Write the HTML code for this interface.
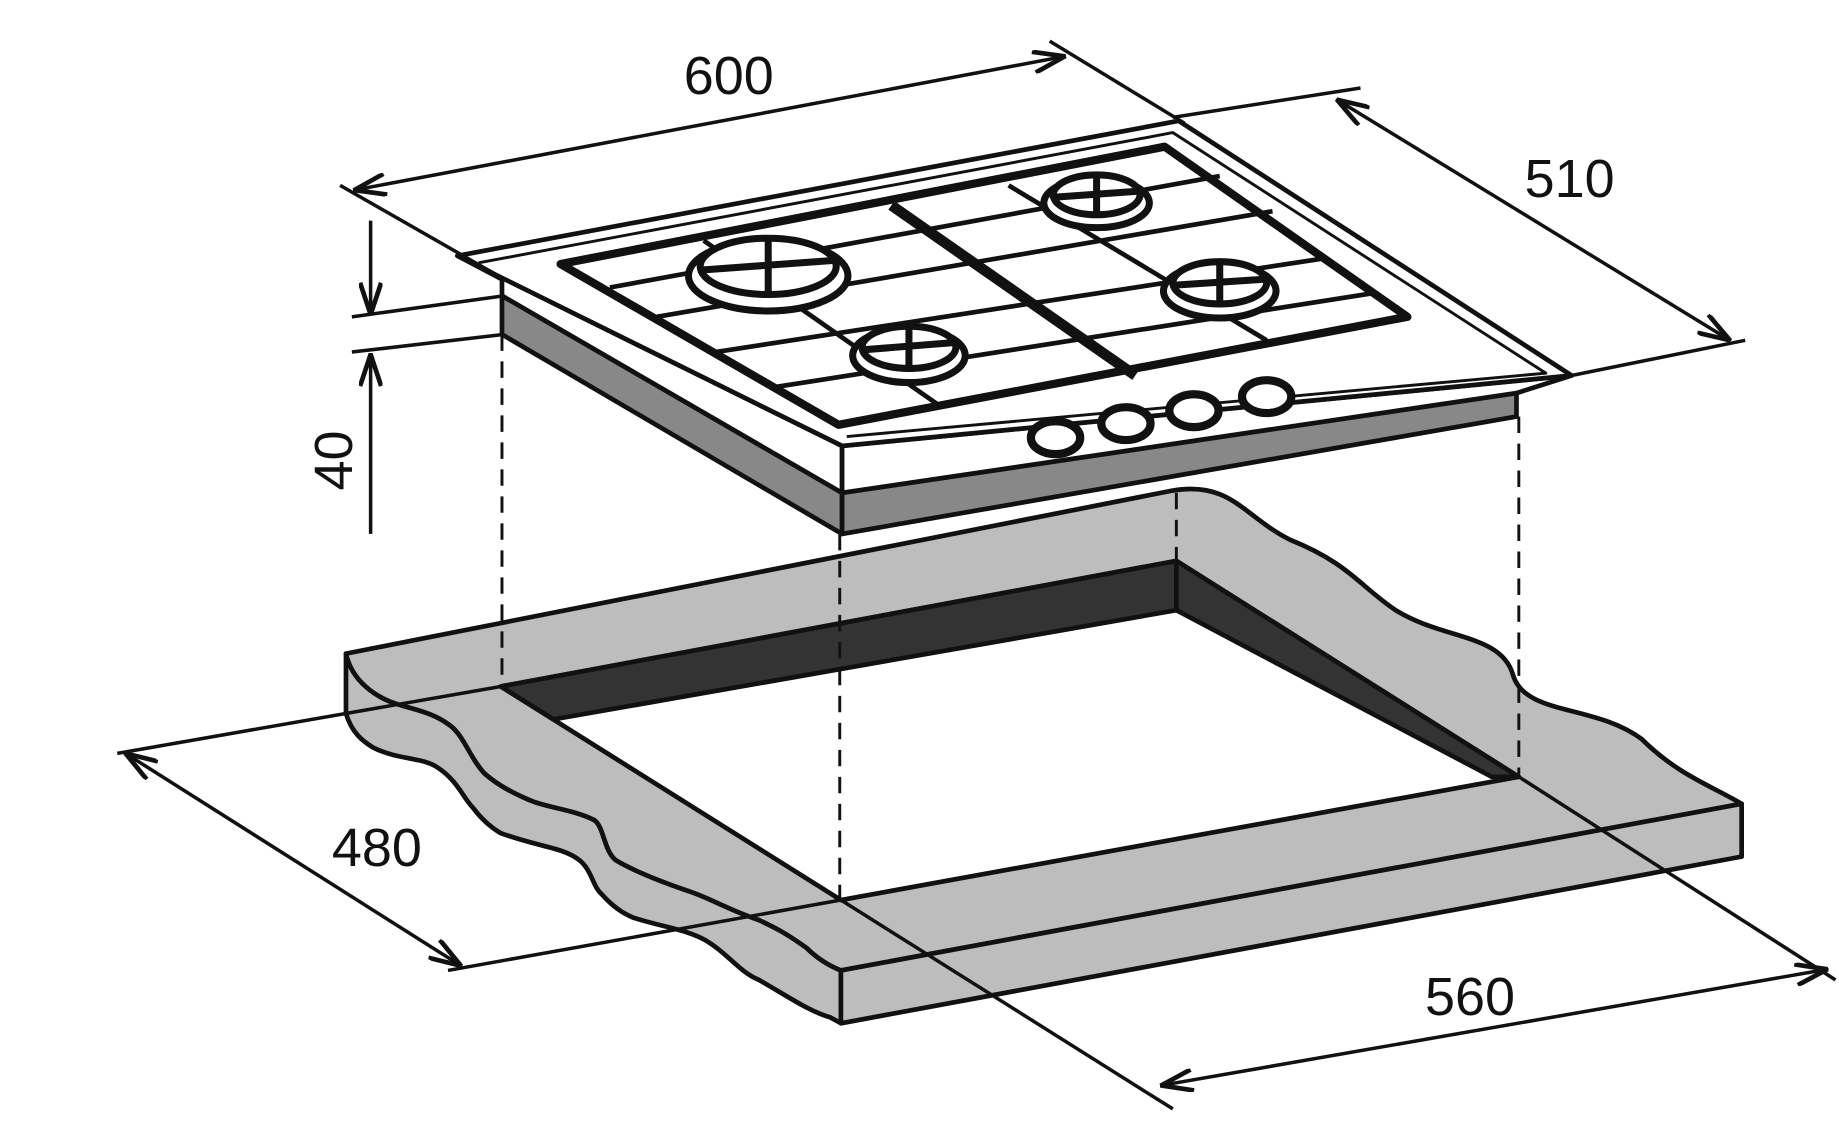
<!DOCTYPE html>
<html><head><meta charset="utf-8"><style>
html,body{margin:0;padding:0;background:#fff;}
svg{display:block;}
text{font-family:"Liberation Sans",sans-serif;font-size:46px;fill:#111;}
</style></head><body>
<svg width="1839" height="1123" viewBox="0 0 1568 957" preserveAspectRatio="none" xmlns="http://www.w3.org/2000/svg">
<defs>
<marker id="a" viewBox="0 0 30 20" refX="29" refY="10" markerWidth="30" markerHeight="20" markerUnits="userSpaceOnUse" orient="auto-start-reverse">
<path d="M2,1 L29,10 L2,19" fill="none" stroke="#111" stroke-width="4"/></marker>
</defs>
<g stroke="#111" stroke-width="4" fill="none" stroke-linejoin="round">
<!-- countertop left thickness band -->
<path d="M295,557 L295,608 C300,625 310,632 318,637 C340,648 360,645 373,654 C390,665 395,680 403,688 C412,700 420,706 427,710 C460,722 480,722 494,733 C505,742 505,755 513,762 C522,772 530,778 540,782 C565,790 585,792 601,801 C620,812 630,828 647,835 C670,848 690,862 708,867 L717,872 L717,827 C700,820 690,810 688,808 C670,795 660,790 647,784 C620,775 605,765 586,759 C560,750 540,742 525,733 C515,725 515,705 507,699 C490,690 465,688 452,682 C435,675 422,667 413,659 C400,645 395,625 382,617 C370,608 355,605 342,601 C320,595 300,580 295,557 Z" fill="#bdbdbd"/>
<!-- countertop top face -->
<path d="M295,557 L1000,418 C1050,410 1060,440 1100,460 C1150,480 1160,500 1190,520 C1230,545 1280,540 1290,575 C1300,610 1360,600 1400,630 C1430,660 1460,670 1485,685 L717,827 C700,820 690,810 688,808 C670,795 660,790 647,784 C620,775 605,765 586,759 C560,750 540,742 525,733 C515,725 515,705 507,699 C490,690 465,688 452,682 C435,675 422,667 413,659 C400,645 395,625 382,617 C370,608 355,605 342,601 C320,595 300,580 295,557 Z" fill="#bdbdbd"/>
<path d="M717,827 L1485,685 L1485,730 L717,872 Z" fill="#bdbdbd"/>
<!-- cutout -->
<path d="M427,585 L1003,478 L1295,662 L717,767 Z" fill="#fff"/>
<path d="M427,585 L1003,478 L1003,520 L472,613 Z" fill="#333"/>
<path d="M1003,478 L1295,662 L1272,662 L1003,520 Z" fill="#333"/>
<!-- dashed -->
<g stroke-dasharray="14,9" stroke-width="2.5">
<line x1="428" y1="285" x2="428" y2="585"/>
<line x1="716" y1="455" x2="716" y2="767"/>
<line x1="1003" y1="420" x2="1003" y2="478"/>
<line x1="1295" y1="355" x2="1295" y2="660"/>
</g>
<!-- hob body -->
<path d="M428,252 L718,420 L718,455 L428,285 Z" fill="#888"/>
<path d="M718,420 L1293,335 L1293,355 L718,455 Z" fill="#888"/>
<path d="M390,218 L718,380 L718,420 L428,252 L428,238 Z" fill="#fff"/>
<path d="M718,380 L1340,320 L1293,335 L718,420 Z" fill="#fff"/>
<path d="M390,218 L1005,103 L1340,320 L718,380 Z" fill="#fff"/>
<path d="M408,224 L1000,113 L1318,318 L722,372" stroke-width="2.5"/>
<!-- grate -->
<path d="M478,225 L993,125 L1200,270 L715,362 Z" stroke-width="7"/>
<path d="M760,175 L968,320" stroke-width="9"/>
<g stroke-width="4">
<line x1="520" y1="245" x2="1040" y2="150"/>
<line x1="560" y1="270" x2="1085" y2="180"/>
<line x1="610" y1="300" x2="1130" y2="220"/>
<line x1="660" y1="330" x2="1170" y2="250"/>
<line x1="600" y1="205" x2="800" y2="345"/>
<line x1="860" y1="158" x2="1080" y2="290"/>
</g>
<!-- burners -->
<g fill="#fff" stroke-width="6">
<ellipse cx="655" cy="235" rx="68" ry="30"/><ellipse cx="655" cy="227" rx="58" ry="24"/>
<ellipse cx="775" cy="303" rx="48" ry="23"/><ellipse cx="775" cy="296" rx="40" ry="18"/>
<ellipse cx="935" cy="173" rx="45" ry="21"/><ellipse cx="935" cy="166" rx="37" ry="17"/>
<ellipse cx="1040" cy="248" rx="48" ry="23"/><ellipse cx="1040" cy="241" rx="40" ry="18"/>
<path d="M600,230 L710,222 M655,204 L655,250 M737,298 L813,292 M775,279 L775,313 M900,168 L970,163 M935,150 L935,182 M1002,243 L1078,238 M1040,224 L1040,258"/>
</g>
<g fill="#fff" stroke-width="7">
<ellipse cx="900" cy="373" rx="21" ry="14"/><ellipse cx="960" cy="361" rx="21" ry="14"/>
<ellipse cx="1018" cy="350" rx="21" ry="14"/><ellipse cx="1080" cy="338" rx="21" ry="14"/>
</g>
<!-- dimensions -->
<g stroke-width="3">
<line x1="290" y1="158" x2="430" y2="238"/><line x1="895" y1="35" x2="1010" y2="105"/>
<line x1="302" y1="162" x2="908" y2="48" marker-start="url(#a)" marker-end="url(#a)"/>
<line x1="1000" y1="100" x2="1160" y2="75"/><line x1="1340" y1="320" x2="1488" y2="290"/>
<line x1="1140" y1="85" x2="1475" y2="290" marker-start="url(#a)" marker-end="url(#a)"/>
<line x1="300" y1="270" x2="430" y2="252"/><line x1="300" y1="300" x2="430" y2="285"/>
<line x1="316" y1="188" x2="316" y2="268" marker-end="url(#a)"/>
<line x1="316" y1="455" x2="316" y2="302" marker-end="url(#a)"/>
<line x1="100" y1="642" x2="427" y2="585"/><line x1="382" y1="827" x2="717" y2="767"/>
<line x1="107" y1="642" x2="393" y2="823" marker-start="url(#a)" marker-end="url(#a)"/>
<line x1="717" y1="767" x2="1000" y2="945"/><line x1="1295" y1="662" x2="1565" y2="835"/>
<line x1="990" y1="925" x2="1558" y2="826" marker-start="url(#a)" marker-end="url(#a)"/>
</g>
</g>
<text x="583" y="80">600</text>
<text x="1300" y="168">510</text>
<text x="283" y="738">480</text>
<text x="1215" y="865">560</text>
<text transform="translate(300,418) rotate(-90)">40</text>
</svg>
</body></html>
